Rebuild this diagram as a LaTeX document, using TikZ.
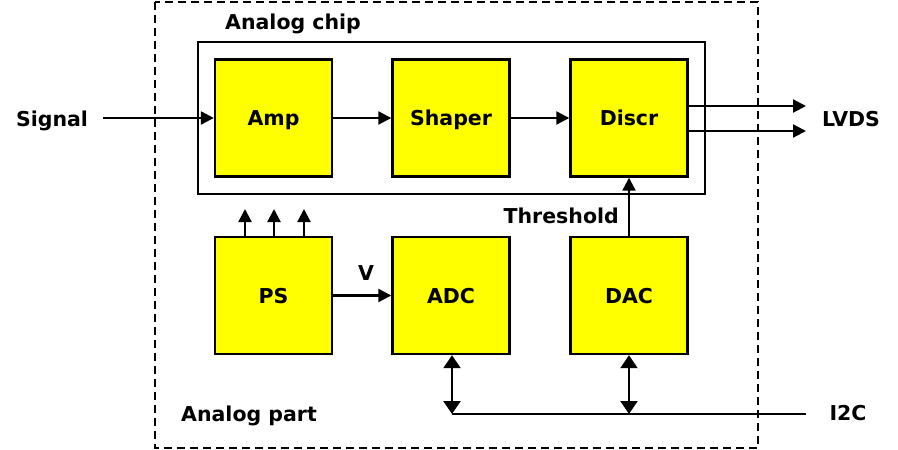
\documentclass[tikz,border=0pt]{standalone}
\usepackage{fontspec}
\setmainfont{DejaVu Sans}
\usetikzlibrary{arrows.meta}
\definecolor{yel}{RGB}{255,255,0}
\begin{document}
\begin{tikzpicture}[x=1pt,y=-1pt,
  blk/.style={draw=black,line width=2.4pt,fill=yel,minimum width=117pt,minimum height=117pt,inner sep=0pt,text height=15pt,text depth=0pt,font=\bfseries\fontsize{20.5}{24}\selectfont},
  lbl/.style={font=\bfseries\fontsize{20.5}{24}\selectfont,inner sep=0pt,text height=15pt,text depth=0pt},
  conn/.style={line width=2.2pt,-{Triangle[length=13pt,width=13pt]}},
  bidir/.style={line width=2.2pt,{Triangle[length=13pt,width=17pt]}-{Triangle[length=13pt,width=17pt]}}]
\useasboundingbox (0,0) rectangle (898,450);
\draw[line width=2.2pt,dash pattern=on 8pt off 5pt] (155,2) rectangle (758,448);
\draw[line width=2.4pt] (198,42) rectangle (705,194);
\node[lbl] (chip) at (293,22) {Analog chip};
\node[lbl] (part) at (249,414) {Analog part};
\node[blk] (amp) at (273.5,118) {Amp};
\node[blk] (shaper) at (451,118) {Shaper};
\node[blk] (discr) at (629,118) {Discr};
\node[blk] (ps) at (273.5,295.5) {PS};
\node[blk] (adc) at (451,295.5) {ADC};
\node[blk] (dac) at (629,295.5) {DAC};
\node[lbl] (sig) at (52,119) {Signal};
\node[lbl] (lvds) at (851,119) {LVDS};
\node[lbl] (i2c) at (848,413) {I2C};
\node[lbl,anchor=east] (thr) at (619,216) {Threshold};
\node[lbl] (v) at (366,273) {V};
\coordinate (sigs) at (103,118);
\coordinate (l1) at (806,106);
\coordinate (l2) at (806,131);
\coordinate (p1) at (245,209);
\coordinate (p2) at (274,209);
\coordinate (p3) at (304,209);
\coordinate (b1) at (452,414);
\coordinate (b2) at (629,414);
\coordinate (bend) at (806,414);
\draw[conn] (sigs) -- (amp.west |- sigs);
\draw[conn] (amp) -- (shaper);
\draw[conn] (shaper) -- (discr);
\draw[conn] (discr.east |- l1) -- (l1);
\draw[conn] (discr.east |- l2) -- (l2);
\draw[conn] (ps.north -| p1) -- (p1);
\draw[conn] (ps.north -| p2) -- (p2);
\draw[conn] (ps.north -| p3) -- (p3);
\draw[conn] (ps) -- (adc);
\draw[conn] (dac) -- (discr);
\draw[bidir] (adc.south -| b1) -- (b1);
\draw[bidir] (dac.south) -- (b2);
\draw[line width=2.2pt] (b1) -- (bend);
\end{tikzpicture}
\end{document}
